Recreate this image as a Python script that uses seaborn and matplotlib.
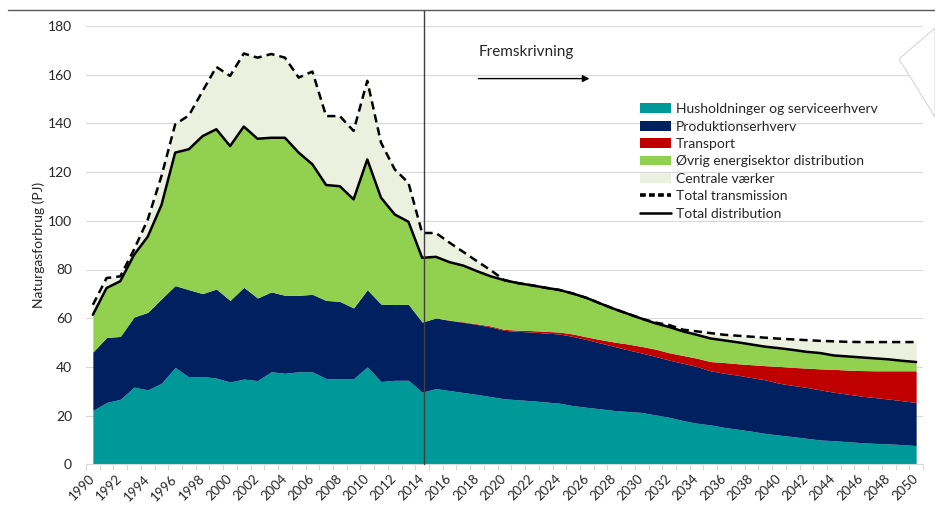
import pandas as pd
import numpy as np
import matplotlib.pyplot as plt
import seaborn as sns
from matplotlib.patches import Patch, Polygon
from matplotlib.lines import Line2D

# Data (PJ)
years = list(range(1990, 2051))

husholdninger = [
    22.1, 25.4, 26.7, 31.7, 30.6, 33.3, 39.8, 35.8, 36.1, 35.4,
    33.8, 35.0, 34.4, 38.0, 37.4, 38.0, 38.0, 35.2, 35.2, 35.2,
    40.0, 34.0, 34.5, 34.5, 29.6, 31.1, 30.3, 29.5, 28.7, 27.8,
    26.9, 26.5, 26.1, 25.6, 25.1, 24.1, 23.4, 22.8, 22.1, 21.7,
    21.3, 20.3, 19.3, 18.0, 16.9, 16.2, 15.2, 14.4, 13.6, 12.7,
    12.0, 11.4, 10.7, 10.0, 9.7, 9.3, 8.9, 8.6, 8.4, 8.1, 7.7,
]
produktion = [
    24.0, 26.7, 25.8, 28.8, 31.8, 34.7, 33.6, 35.9, 34.0, 36.6,
    33.5, 37.7, 33.9, 32.8, 32.0, 31.4, 31.8, 32.1, 31.7, 29.0,
    31.7, 31.8, 31.1, 31.2, 28.8, 29.0, 28.8, 28.8, 28.7, 28.6,
    28.1, 28.1, 28.2, 28.3, 28.4, 28.4, 27.8, 27.0, 26.3, 25.3,
    24.4, 24.0, 23.5, 23.5, 23.3, 22.2, 22.2, 22.2, 22.0, 22.0,
    21.3, 21.0, 20.9, 20.6, 19.9, 19.5, 19.1, 18.8, 18.4, 18.0, 17.7,
]
transport = [
    0, 0, 0, 0, 0, 0, 0, 0, 0, 0,
    0, 0, 0, 0, 0, 0, 0, 0, 0, 0,
    0, 0, 0, 0, 0, 0, 0.1, 0.2, 0.3, 0.4,
    0.4, 0.5, 0.6, 0.7, 0.8, 1.0, 1.1, 1.4, 1.8, 2.4,
    2.7, 3.0, 3.0, 3.2, 3.4, 3.8, 4.4, 4.7, 5.3, 5.8,
    6.9, 7.4, 7.9, 8.6, 9.4, 9.9, 10.5, 11.0, 11.6, 12.3, 13.0,
]
ovrig = [
    15.3, 20.3, 22.7, 25.5, 31.1, 38.5, 54.6, 57.7, 64.7, 65.6,
    63.4, 66.0, 65.4, 63.3, 64.7, 58.6, 53.4, 47.4, 47.3, 44.6,
    53.5, 43.7, 37.0, 33.9, 26.4, 25.1, 23.8, 23.1, 21.6, 20.4,
    20.2, 19.3, 18.6, 17.9, 17.3, 16.6, 16.0, 14.8, 13.6, 12.4,
    11.4, 10.6, 10.6, 9.9, 9.6, 9.5, 9.1, 8.8, 8.3, 7.8,
    7.5, 7.2, 6.7, 6.5, 5.7, 5.6, 5.4, 5.1, 4.7, 4.1, 3.6,
]
centrale = [
    4.1, 4.1, 2.0, 2.2, 7.0, 11.9, 11.6, 13.9, 18.5, 25.6,
    28.8, 30.0, 33.3, 34.4, 32.9, 30.8, 38.1, 28.3, 28.8, 28.1,
    32.3, 22.6, 18.5, 16.0, 10.2, 9.8, 8.0, 5.6, 4.1, 2.5,
    0, 0, 0, 0, 0, 0, 0, 0, 0, 0,
    0, 0.3, 0.8, 0.7, 1.4, 2.2, 2.3, 2.7, 3.2, 3.7,
    3.9, 4.3, 4.8, 5.0, 5.8, 6.0, 6.3, 6.7, 7.1, 7.7, 8.2,
]

labels = [
    "Husholdninger og serviceerhverv",
    "Produktionserhverv",
    "Transport",
    "Øvrig energisektor distribution",
    "Centrale værker",
]
colors = ["#009999", "#002060", "#C00000", "#92D050", "#EBF1DE"]
tick_years = list(range(1990, 2051, 2))

df = pd.DataFrame(
    {
        labels[0]: husholdninger,
        labels[1]: produktion,
        labels[2]: transport,
        labels[3]: ovrig,
        labels[4]: centrale,
    },
    index=years,
)
total_distribution = df[labels[:4]].sum(axis=1)
total_transmission = df.sum(axis=1)

sns.set_theme(style="white")
plt.rcParams["font.family"] = ["Lato", "DejaVu Sans"]

fig, ax = plt.subplots(figsize=(9.35, 5.21), dpi=100)
fig.subplots_adjust(left=86 / 935, right=923 / 935, bottom=1 - 464.3 / 521, top=1 - 26 / 521)

# Stablede arealer
ax.stackplot(years, [df[c] for c in labels], colors=colors, linewidth=0, zorder=2)

# Totallinjer
sns.lineplot(x=years, y=total_transmission.values, ax=ax, color="black",
             lw=1.8, linestyle=(0, (3.3, 2)), zorder=3)
sns.lineplot(x=years, y=total_distribution.values, ax=ax, color="black",
             lw=1.8, zorder=4)

# Skillelinje historik / fremskrivning
ax.axvline(2014.15, ymin=0, ymax=1.037, color="#404040", lw=1, clip_on=False, zorder=5)

ax.text(2018.1, 169.3, "Fremskrivning", fontsize=11, va="center", color="#262626")
ax.annotate("", xy=(2026.4, 158.4), xytext=(2017.9, 158.4),
            arrowprops=dict(arrowstyle="-|>", color="black", lw=1, mutation_scale=10))

# Akser
ax.set_xlim(1989.5, 2050.5)
ax.set_ylim(0, 180)
ax.set_yticks(range(0, 181, 20))
ax.set_xticks(tick_years)
ax.set_xticklabels([str(y) for y in tick_years], rotation=45, ha="right",
                   va="center", rotation_mode="anchor", fontsize=9.5, color="#262626")
ax.set_xticks(np.arange(1989.5, 2051, 1), minor=True)
ax.tick_params(axis="x", which="major", length=0, pad=9)
ax.tick_params(axis="x", which="minor", length=4, color="#D9D9D9", width=0.8, bottom=True)
ax.tick_params(axis="y", length=0, pad=10, labelsize=10, labelcolor="#262626")
ax.set_ylabel("Naturgasforbrug (PJ)", fontsize=10, color="#262626", labelpad=2)
ax.set_xlabel("")

ax.grid(axis="y", color="#D9D9D9", lw=0.8, zorder=0)
ax.set_axisbelow(True)
for s in ["top", "left", "right"]:
    ax.spines[s].set_visible(False)
ax.spines["bottom"].set_color("#D9D9D9")
ax.spines["bottom"].set_linewidth(0.8)

# Legend
handles = [Patch(facecolor=c, edgecolor="none", label=l) for c, l in zip(colors, labels)]
handles.append(Line2D([0], [0], color="black", lw=2.6, linestyle=(0, (1.6, 0.9)), label="Total transmission"))
handles.append(Line2D([0], [0], color="black", lw=1.8, label="Total distribution"))
ax.legend(handles=handles, loc="upper left", bbox_to_anchor=(0.662, 0.824),
          frameon=False, fontsize=10, handlelength=2.25, handletextpad=0.3,
          labelspacing=0.39, borderpad=0, borderaxespad=0)

# Ramme øverst og dekorativ figur til højre
fig.add_artist(Line2D([8 / 935, 1], [1 - 10 / 521] * 2, transform=fig.transFigure,
                      color="#595959", lw=1))
fig.add_artist(Polygon([(899 / 935, 1 - 59 / 521), (1, 1 - 28 / 521), (1, 1 - 117 / 521)],
                       closed=True, transform=fig.transFigure, facecolor="white",
                       edgecolor="#D6D6D6", lw=0.8, zorder=10))

fig.savefig("out.png", dpi=100)
